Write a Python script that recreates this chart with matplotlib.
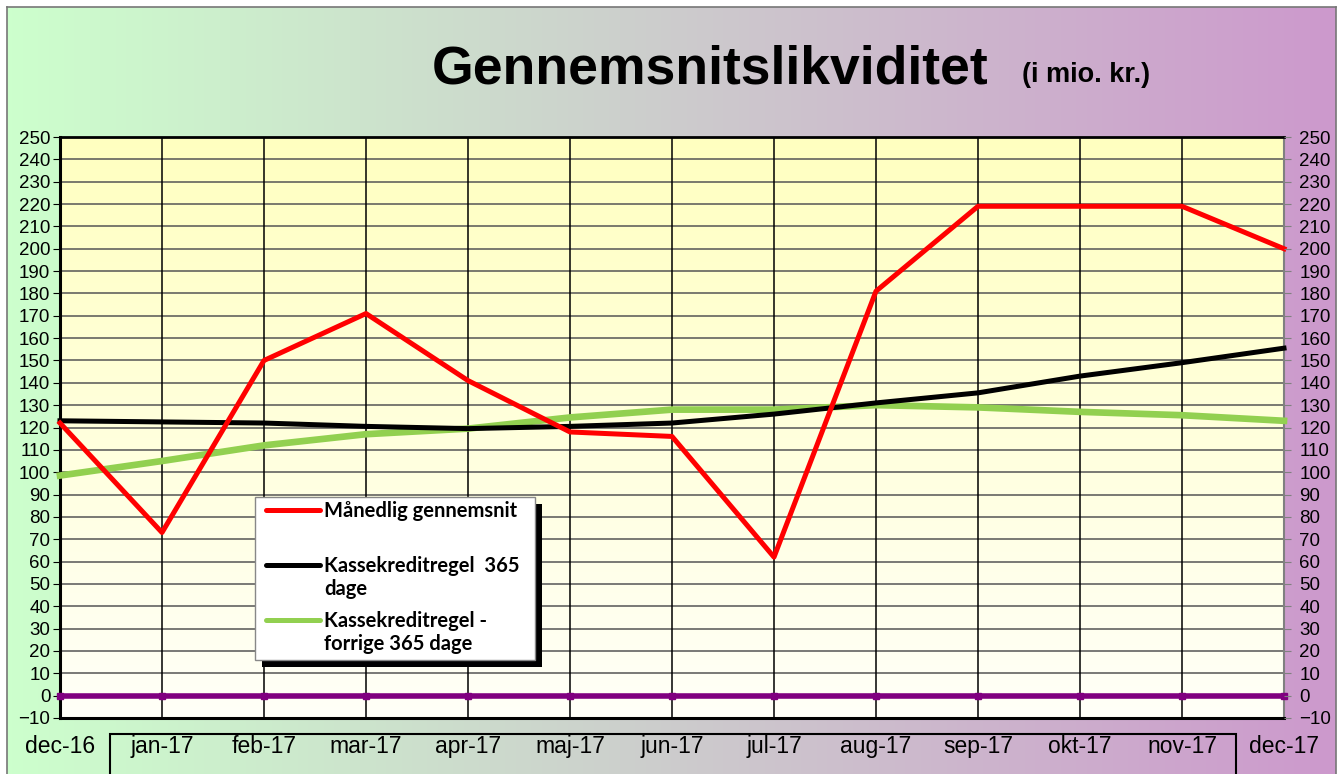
import numpy as np
import matplotlib
matplotlib.use('Agg')
import matplotlib.pyplot as plt
from matplotlib.patches import Rectangle
from matplotlib.lines import Line2D

months = ['dec-16', 'jan-17', 'feb-17', 'mar-17', 'apr-17', 'maj-17', 'jun-17',
          'jul-17', 'aug-17', 'sep-17', 'okt-17', 'nov-17', 'dec-17']
maanedlig = [122, 73, 150, 171, 141, 118, 116, 62, 181, 219, 219, 219, 200]
regel_365 = [123, 122.5, 122, 120.5, 119.5, 120.5, 122, 126, 131, 135.5, 143, 149, 155.5]
regel_forrige = [98.5, 105, 112, 117, 119.5, 124.5, 128, 128, 130, 129, 127, 125.5, 123]
nul_linje = [0] * len(months)

legend_labels = ['Månedlig gennemsnit', 'Kassekreditregel  365\ndage', 'Kassekreditregel -\nforrige 365 dage']

W, H = 1341, 774
fig = plt.figure(figsize=(W / 100, H / 100), dpi=100)
fig.patch.set_facecolor('white')

# background: horizontal gradient green -> purple inside a thin frame
bg = fig.add_axes([7 / W, 0, (1336 - 7) / W, 1 - 7 / H], zorder=-5)
c0 = np.array([0xcc, 0xff, 0xcc]) / 255
c1 = np.array([0xcc, 0x99, 0xcc]) / 255
t = np.linspace(0, 1, 256)[None, :, None]
bg.imshow(c0 + (c1 - c0) * t, aspect='auto', extent=[0, 1, 0, 1])
bg.set_xticks([])
bg.set_yticks([])
for s in ['left', 'top', 'right']:
    bg.spines[s].set_color('#777777')
    bg.spines[s].set_linewidth(1.2)
bg.spines['bottom'].set_visible(False)

# title
fig.text(432 / W, 1 - 84 / H, 'Gennemsnitslikviditet', fontsize=38.5, fontweight='bold',
         family='Liberation Sans', ha='left', va='baseline')
fig.text(1022 / W, 1 - 82 / H, '(i mio. kr.)', fontsize=19.5, fontweight='bold',
         family='Liberation Sans', ha='left', va='baseline')

x = np.arange(len(months))
ax = fig.add_axes([60 / W, 1 - 718 / H, (1284 - 60) / W, (718 - 137) / H])
ax.set_xlim(0, len(months) - 1)
ax.set_ylim(-10, 250)
ax.patch.set_visible(False)

# plot area: vertical gradient light yellow -> near white
g_top = np.array([0xff, 0xff, 0xc0]) / 255
g_bot = np.array([0xff, 0xff, 0xf8]) / 255
tv = np.linspace(0, 1, 256)[:, None, None]
ax.imshow(g_top + (g_bot - g_top) * tv, aspect='auto',
          extent=[0, len(months) - 1, -10, 250], zorder=0)

yt = np.arange(-10, 251, 10)
ax.set_yticks(yt)
ax.set_xticks(x)
for v in yt:
    ax.axhline(v, color='#555555', lw=1.1, zorder=1)
for v in x:
    ax.axvline(v, color='black', lw=1.1, zorder=1)

ax.plot(x, nul_linje, color='#800080', lw=4, marker='s', ms=4, zorder=3, clip_on=False)
ax.plot(x, regel_forrige, color='#92d050', lw=4.8, zorder=4, clip_on=False)
ax.plot(x, regel_365, color='black', lw=3.6, zorder=5, clip_on=False)
ax.plot(x, maanedlig, color='#ff0000', lw=3.6, zorder=6, clip_on=False)

ax.set_xticklabels(months, fontsize=16.5, family='Liberation Sans')
ax.tick_params(axis='x', length=0, pad=12)
ax.tick_params(axis='y', direction='out', length=5, labelsize=13.5, pad=2)
for lab in ax.get_yticklabels():
    lab.set_family('Liberation Sans')
ax.spines['left'].set_linewidth(2.2)
ax.spines['bottom'].set_linewidth(2.2)
ax.spines['top'].set_linewidth(2)
ax.spines['right'].set_color('#808080')
ax.spines['right'].set_linewidth(1.5)

ax2 = ax.twinx()
ax2.set_ylim(-10, 250)
ax2.set_yticks(yt)
ax2.tick_params(axis='y', direction='out', length=5, labelsize=13.5, pad=6, color='#808080')
for lab in ax2.get_yticklabels():
    lab.set_family('Liberation Sans')
for s in ax2.spines.values():
    s.set_visible(False)

# box under the category labels
fig.patches.append(Rectangle((110 / W, -0.05), (1236 - 110) / W, 0.05 + 1 - 734 / H,
                             transform=fig.transFigure, fill=False, edgecolor='black', lw=1.5))

# legend box with black shadow
lx0, ly0, lx1, ly1 = 255, 497, 535, 660
fig.patches.append(Rectangle(((lx0 + 7) / W, 1 - (ly1 + 7) / H), (lx1 - lx0) / W, (ly1 - ly0) / H,
                             transform=fig.transFigure, facecolor='black', edgecolor='none', zorder=8))
fig.patches.append(Rectangle((lx0 / W, 1 - ly1 / H), (lx1 - lx0) / W, (ly1 - ly0) / H,
                             transform=fig.transFigure, facecolor='white', edgecolor='#888888',
                             lw=1, zorder=9))
handle_colors = ['#ff0000', 'black', '#92d050']
handle_y = [510, 565, 620]
for col, hy, lab in zip(handle_colors, handle_y, legend_labels):
    fig.lines.append(Line2D([266 / W, 320 / W], [1 - hy / H, 1 - hy / H], transform=fig.transFigure,
                            color=col, lw=3.6, solid_capstyle='round', zorder=10))
    fig.text(324 / W, 1 - (hy - 9) / H, lab, fontsize=14.5, fontweight='bold', family='Lato',
             ha='left', va='top', linespacing=1.2, zorder=11)

fig.savefig('out.png', dpi=100)
